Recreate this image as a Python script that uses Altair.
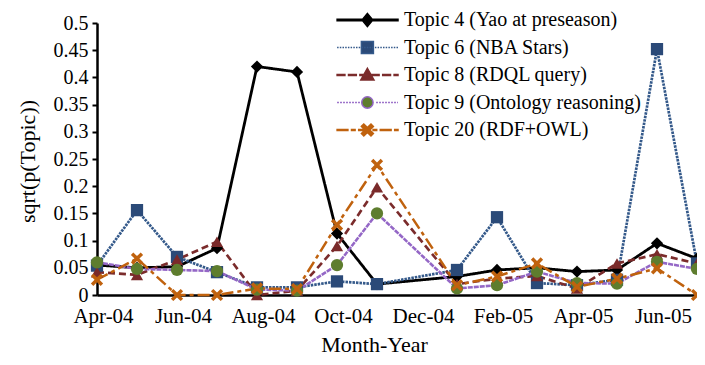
import altair as alt
import pandas as pd

# ---------------- data ----------------
months = ["Apr-04", "May-04", "Jun-04", "Jul-04", "Aug-04", "Sep-04", "Oct-04", "Nov-04",
          "Dec-04", "Jan-05", "Feb-05", "Mar-05", "Apr-05", "May-05", "Jun-05", "Jul-05"]
tick_labels = ["Apr-04", "Jun-04", "Aug-04", "Oct-04", "Dec-04", "Feb-05", "Apr-05", "Jun-05"]
y_ticks = [0, 0.05, 0.1, 0.15, 0.2, 0.25, 0.3, 0.35, 0.4, 0.45, 0.5]

topics = ["Topic 4 (Yao at preseason)", "Topic 6 (NBA Stars)", "Topic 8 (RDQL query)",
          "Topic 9 (Ontology reasoning)", "Topic 20 (RDF+OWL)"]

topic4 = [0.055, 0.050, 0.052, 0.086, 0.420, 0.410, 0.113, 0.020, None,
          0.034, 0.046, 0.050, 0.043, 0.046, 0.095, 0.067]
topic6 = [0.054, 0.156, 0.070, 0.042, 0.014, 0.014, 0.025, 0.020, None,
          0.046, 0.143, 0.022, 0.018, 0.028, 0.452, 0.058]
topic8 = [0.042, 0.037, 0.065, 0.098, 0.000, 0.008, 0.090, 0.198, None,
          0.020, 0.030, 0.035, 0.012, 0.058, 0.075, 0.058]
topic9 = [0.060, 0.048, 0.046, 0.044, 0.010, 0.008, 0.055, 0.150, None,
          0.012, 0.018, 0.043, 0.022, 0.021, 0.061, 0.048]
topic20 = [0.028, 0.067, 0.000, 0.000, 0.012, 0.011, 0.129, 0.239, None,
           0.018, 0.034, 0.058, 0.015, 0.030, 0.049, 0.000]

series = [topic4, topic6, topic8, topic9, topic20]

# ---------------- styles ----------------
line_colors = ["#000000", "#34598A", "#7B2C2C", "#9467C6", "#C0620E"]
marker_colors = ["#000000", "#2B4A78", "#7A2A2A", "#5E7D2E", "#C0620E"]
dashes = [[1, 0], [2.5, 1], [7, 4], [5, 1], [12, 4, 4, 4]]
widths = [2.8, 2.5, 2.8, 2.3, 2.8]
FONT = "Liberation Serif, Times New Roman, DejaVu Serif, serif"

x_marker = ("M-1,-0.6L-0.6,-1L0,-0.4L0.6,-1L1,-0.6L0.4,0L1,0.6L0.6,1"
            "L0,0.4L-0.6,1L-1,0.6L-0.4,0Z")
plot_shapes = ["diamond", "square", "triangle-up", "circle", x_marker]

# legend glyphs: a line segment plus marker, in symbol units (1 unit = 6px)
L0, L1, CX = -1.65, 8.5, 3.4


def segs(pattern, closed, th=0.1, skip_marker=False):
    out = []
    x = L0
    k = 0
    while x < L1:
        ln = pattern[k % len(pattern)]
        if k % 2 == 0:
            a, b = x, min(x + ln, L1)
            if not (skip_marker and b > CX - 1.05 and a < CX + 1.05):
                if closed:
                    out.append(f"M{a:.2f},{-th:.2f}H{b:.2f}V{th:.2f}H{a:.2f}Z")
                else:
                    out.append(f"M{a:.2f},0H{b:.2f}")
        x += ln
        k += 1
    return "".join(out)


def sq(s=1.0):
    return f"M{CX - s:.2f},{-s:.2f}H{CX + s:.2f}V{s:.2f}H{CX - s:.2f}Z"


leg_diamond = f"M{CX:.2f},-1.1L{CX + 0.9:.2f},0L{CX:.2f},1.1L{CX - 0.9:.2f},0Z"
leg_tri = f"M{CX:.2f},-1.1L{CX + 1.1:.2f},0.85H{CX - 1.1:.2f}Z"
leg_circ = f"M{CX + 0.95:.2f},0A0.95,0.95 0 1,1 {CX - 0.95:.2f},0A0.95,0.95 0 1,1 {CX + 0.95:.2f},0Z"
leg_x = ("".join(
    ("M" if i == 0 else "L") + f"{CX + px:.2f},{py:.2f}"
    for i, (px, py) in enumerate([(-1, -0.6), (-0.6, -1), (0, -0.4), (0.6, -1), (1, -0.6), (0.4, 0),
                                  (1, 0.6), (0.6, 1), (0, 0.4), (-0.6, 1), (-1, 0.6), (-0.4, 0)])) + "Z")

legend_paths = [
    segs([10.2, 0], True, th=0.12) + leg_diamond,
    segs([0.25, 0.2], False) + sq(1.0),
    segs([1.3, 0.6], True, th=0.09) + leg_tri,
    segs([0.3, 0.2], False, skip_marker=True) + leg_circ,
    segs([1.8, 0.6, 0.6, 0.6], True, th=0.09) + leg_x,
]

# ---------------- long table ----------------
rows = []
for t, vals in zip(topics, series):
    for i, (m, v) in enumerate(zip(months, vals)):
        if v is None:
            continue
        rows.append({"topic": t, "month": m, "idx": i, "value": v})
df = pd.DataFrame(rows)

x_enc = alt.X(
    "month:O",
    scale=alt.Scale(type="point", domain=months, padding=0),
    axis=alt.Axis(values=tick_labels, labelAngle=0, ticks=False, title="Month-Year",
                  labelFontSize=21, labelPadding=10, labelOffset=6, domainWidth=2.5,
                  titleFontSize=22, titleX=277, titleY=56, titleBaseline="alphabetic",
                  titleAlign="center"),
)
y_enc = alt.Y(
    "value:Q",
    scale=alt.Scale(domain=[0, 0.5], nice=False, zero=True),
    axis=alt.Axis(values=y_ticks, format=".2~f", title="sqrt(p(Topic))",
                  labelFontSize=20, tickSize=5, tickWidth=2, tickColor="black",
                  labelPadding=4, domainWidth=2.5,
                  titleFontSize=22, titleX=-70, titleY=138, titleAngle=-90,
                  titleBaseline="middle", titleAlign="center"),
)

base = alt.Chart(df)

lines = base.mark_line().encode(
    x=x_enc, y=y_enc,
    order="idx:Q",
    color=alt.Color("topic:N", scale=alt.Scale(domain=topics, range=line_colors), legend=None),
    strokeDash=alt.StrokeDash("topic:N", scale=alt.Scale(domain=topics, range=dashes), legend=None),
    strokeWidth=alt.StrokeWidth("topic:N", scale=alt.Scale(domain=topics, range=widths), legend=None),
)

points = base.mark_point(filled=True, size=150, opacity=1).encode(
    x=x_enc, y=y_enc,
    shape=alt.Shape("topic:N", scale=alt.Scale(domain=topics, range=plot_shapes), legend=None),
    fill=alt.Fill("topic:N", scale=alt.Scale(domain=topics, range=marker_colors), legend=None),
)

legend_layer = base.mark_point(filled=True, opacity=0).encode(
    x=x_enc, y=y_enc,
    shape=alt.Shape("topic:N", scale=alt.Scale(domain=topics, range=legend_paths),
                    legend=alt.Legend(orient="none", legendX=240, legendY=-13, title=None,
                                      labelFont=FONT, labelFontSize=20, labelColor="black",
                                      labelLimit=0, labelOffset=47, symbolSize=144,
                                      symbolStrokeWidth=1.5, symbolOpacity=1,
                                      rowPadding=7.5, padding=0)),
    fill=alt.Fill("topic:N", scale=alt.Scale(domain=topics, range=marker_colors)),
    stroke=alt.Stroke("topic:N", scale=alt.Scale(domain=topics, range=line_colors)),
)

chart = alt.layer(lines, points, legend_layer).resolve_scale(
    shape="independent", fill="independent", stroke="independent"
).properties(
    width=600, height=272,
    autosize=alt.AutoSizeParams(type="none"),
    padding={"left": 89, "top": 15, "right": 0, "bottom": 62},
).configure_view(stroke=None).configure_axis(
    grid=False, domainColor="black", labelColor="black", titleColor="black",
    labelFont=FONT, titleFont=FONT, titleFontWeight="normal",
)

chart.save("out.html", embed_options={"renderer": "svg", "actions": False})
